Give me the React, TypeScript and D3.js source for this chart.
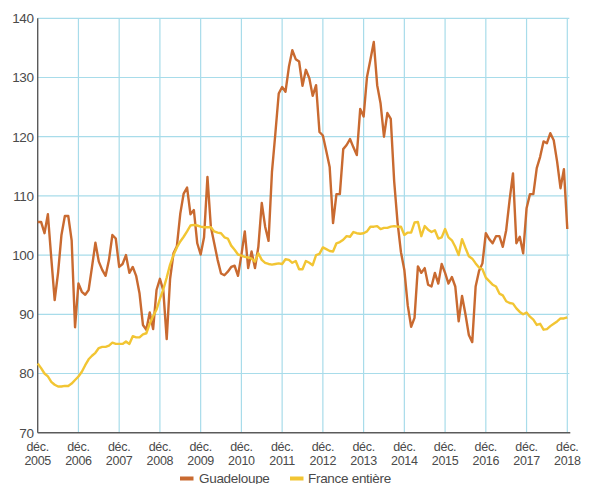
import React from "react";
import * as d3 from "d3";

// monthly index values, déc. 2005 -> déc. 2018
const guadeloupe = [
  105.6,
  105.6, 103.7, 106.9, 99.5, 92.4, 97, 103.4, 106.6, 106.6, 102.5, 87.8, 95.2,
  93.8, 93.3, 94.1, 98, 102.1, 98.9, 97.5, 96.5, 99.2, 103.4, 102.8, 98.0,
  98.5, 100, 97, 98, 96.5, 93.5, 88.2, 87.4, 90.3, 87.5, 94.1, 96,
  94, 85.8, 96, 100.3, 101.5, 107, 110.4, 111.4, 106.9, 107.6, 102, 100.1,
  103, 113.2, 104.8, 102, 99.2, 96.9, 96.6, 97.2, 98, 98.2, 96.5, 100,
  104, 97.8, 100.6, 97.8, 101.4, 108.8, 104.8, 102.4, 114, 120.5, 127.3, 128.4,
  127.6, 131.8, 134.6, 133.1, 132.7, 128.6, 131.3, 129.9, 126.9, 128.7, 120.8, 120.2,
  117.6, 114.9, 105.4, 110.3, 110.3, 117.9, 118.6, 119.6, 118.2, 116.9, 124.7, 123.4,
  130.1, 133, 136, 128.7, 125.6, 120, 124, 123, 112.5, 105.5, 100.5, 97.5,
  91.5, 87.9, 89.4, 98.1, 97, 97.8, 95, 94.7, 97, 95.2, 98.5, 97,
  95.2, 96.3, 94.7, 88.8, 93.1, 90, 86.5, 85.3, 94.7, 97.3, 98.6, 103.7,
  102.7, 102, 103.2, 103.2, 101.4, 104.2, 109.3, 113.8, 102, 103.1, 100.3, 107.9,
  110.3, 110.3, 114.7, 116.6, 119.2, 118.9, 120.6, 119.4, 115.8, 111.3, 114.5, 104.4,
];

const franceEntiere = [
  81.7,
  80.9, 80.0, 79.5, 78.6, 78.1, 77.8, 77.8, 77.9, 77.9, 78.3, 78.9, 79.5,
  80.3, 81.4, 82.4, 83.0, 83.5, 84.3, 84.5, 84.5, 84.7, 85.2, 85.0, 85.0,
  85.0, 85.4, 85.0, 86.3, 86.1, 86.1, 86.6, 86.8, 88.4, 89.7, 90.8, 92.6,
  94.2, 96.2, 98.4, 100, 101.3, 102.3, 103.1, 104, 105, 105.1, 105, 104.8,
  104.7, 104.7, 104.7, 104.0, 103.8, 103.7, 103.0, 102.8, 101.6, 100.9, 100.1, 99.9,
  99.7, 99.6, 99.4, 98.9, 100.3, 99.2, 98.7, 98.5, 98.4, 98.5, 98.6, 98.5,
  99.3, 99.2, 98.7, 99.0, 97.6, 97.6, 99.0, 98.7, 98.3, 100, 100.2, 101.3,
  101, 100.7, 100.6, 102, 102.2, 102.6, 103.2, 103.1, 103.9, 103.7, 103.6, 103.7,
  104.0, 104.8, 104.8, 104.9, 104.4, 104.6, 104.6, 104.8, 104.9, 104.8, 104.8, 103.4,
  103.8, 103.8, 105.5, 105.6, 103.2, 104.9, 104.3, 103.9, 104.2, 102.8, 103.0, 104.4,
  103.0, 102.5, 101.4, 100, 102.7, 101.2, 99.8, 99.4, 98.6, 97.9, 97.6, 96.2,
  95.6, 95.0, 94.7, 93.5, 93.2, 92.2, 91.9, 91.8, 91.0, 90.4, 90.0, 90.3,
  89.6, 89.1, 88.2, 88.4, 87.4, 87.5, 88.0, 88.4, 88.8, 89.3, 89.3, 89.5,
];

const years = ["2005", "2006", "2007", "2008", "2009", "2010", "2011", "2012", "2013", "2014", "2015", "2016", "2017", "2018"];
const yTicks = [70, 80, 90, 100, 110, 120, 130, 140];

const series = [
  { name: "Guadeloupe", values: guadeloupe, color: "#c96a30" },
  { name: "France entière", values: franceEntiere, color: "#f2c533" },
];

const W = 596;
const H = 484;
const left = 37.7;
const right = 567.3;
const top = 18.3;
const bottom = 432.7;

const App: React.FC = () => {
  const x = d3.scaleLinear().domain([0, guadeloupe.length - 1]).range([left, right]);
  const y = d3.scaleLinear().domain([70, 140]).range([bottom, top]);
  const line = d3
    .line<number>()
    .x((_d, i) => x(i))
    .y((d) => y(d));

  const gridColor = "#a8dcea";
  const axisColor = "#5a5a5a";
  const textColor = "#4a4a4a";
  const font = "'Liberation Sans', Arial, sans-serif";

  return (
    <svg
      width={W}
      height={H}
      style={{ position: "absolute", left: 0, top: 0, background: "#fff" }}
      fontFamily={font}
    >
      {/* horizontal grid */}
      {yTicks.slice(1).map((t) => (
        <line key={"h" + t} x1={left} x2={right + 2} y1={y(t)} y2={y(t)} stroke={gridColor} strokeWidth={1.2} />
      ))}
      {/* vertical grid, one per december */}
      {years.map((yr, i) =>
        i === 0 ? null : (
          <line key={"v" + yr} x1={x(i * 12)} x2={x(i * 12)} y1={top} y2={bottom} stroke={gridColor} strokeWidth={1.2} />
        )
      )}
      {/* axes */}
      <line x1={left} x2={left} y1={top} y2={bottom} stroke={axisColor} strokeWidth={1.4} />
      <line x1={left} x2={right + 3} y1={bottom} y2={bottom} stroke={axisColor} strokeWidth={1.4} />

      {yTicks.map((t) => (
        <text key={"yt" + t} x={33.5} y={y(t) + 4.8} textAnchor="end" fontSize={13.5} fill={textColor} letterSpacing={-0.4}>
          {t}
        </text>
      ))}

      {years.map((yr, i) => (
        <g key={"xt" + yr} fontSize={12.5} fill={textColor} textAnchor="middle" letterSpacing={-0.3}>
          <text x={x(i * 12)} y={450.5}>déc.</text>
          <text x={x(i * 12)} y={464.6}>{yr}</text>
        </g>
      ))}

      {series.map((s) => (
        <path
          key={s.name}
          d={line(s.values) || ""}
          fill="none"
          stroke={s.color}
          strokeWidth={2.4}
          strokeLinejoin="round"
        />
      ))}

      {/* legend */}
      <rect x={180} y={476.5} width={13.5} height={4} fill={series[0].color} />
      <text x={199} y={482.5} fontSize={13.5} fill={textColor} letterSpacing={-0.3}>
        {series[0].name}
      </text>
      <rect x={290} y={476.5} width={13.5} height={4} fill={series[1].color} />
      <text x={308} y={482.5} fontSize={13.5} fill={textColor} letterSpacing={-0.3}>
        {series[1].name}
      </text>
    </svg>
  );
};

export default App;
